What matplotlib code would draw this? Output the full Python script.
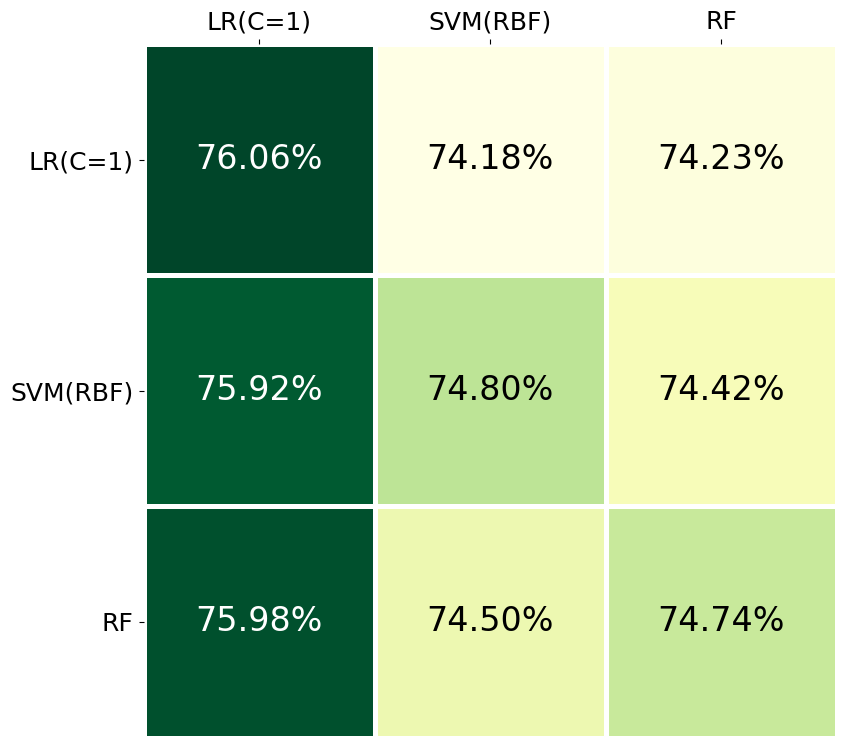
import matplotlib
matplotlib.use("Agg")
import matplotlib.pyplot as plt
import numpy as np

models = ["LR(C=1)", "SVM(RBF)", "RF"]
# rows: y labels, cols: x labels
acc = np.array([
    [76.06, 74.18, 74.23],
    [75.92, 74.80, 74.42],
    [75.98, 74.50, 74.74],
])

fig = plt.figure(figsize=(8.47, 7.48), dpi=100)
ax = fig.add_axes([143.5 / 847, 10.5 / 748, 693 / 847, 693.5 / 748])

vmin, vmax = acc.min(), acc.max()
ax.pcolormesh(acc, cmap="YlGn", vmin=vmin, vmax=vmax,
              edgecolors="white", linewidth=2.2)
ax.set_xlim(0, 3)
ax.set_ylim(3, 0)

for i in range(acc.shape[0]):
    for j in range(acc.shape[1]):
        frac = (acc[i, j] - vmin) / (vmax - vmin)
        ax.text(j + 0.5, i + 0.5, f"{acc[i, j]:.2f}%", ha="center", va="center",
                fontsize=24, color="white" if frac > 0.5 else "black")

ax.set_xticks(np.arange(3) + 0.5)
ax.set_yticks(np.arange(3) + 0.5)
ax.set_xticklabels(models, fontsize=18)
ax.set_yticklabels(models, fontsize=18)
ax.xaxis.tick_top()
for s in ax.spines.values():
    s.set_visible(False)

fig.savefig("out.png", dpi=100)
